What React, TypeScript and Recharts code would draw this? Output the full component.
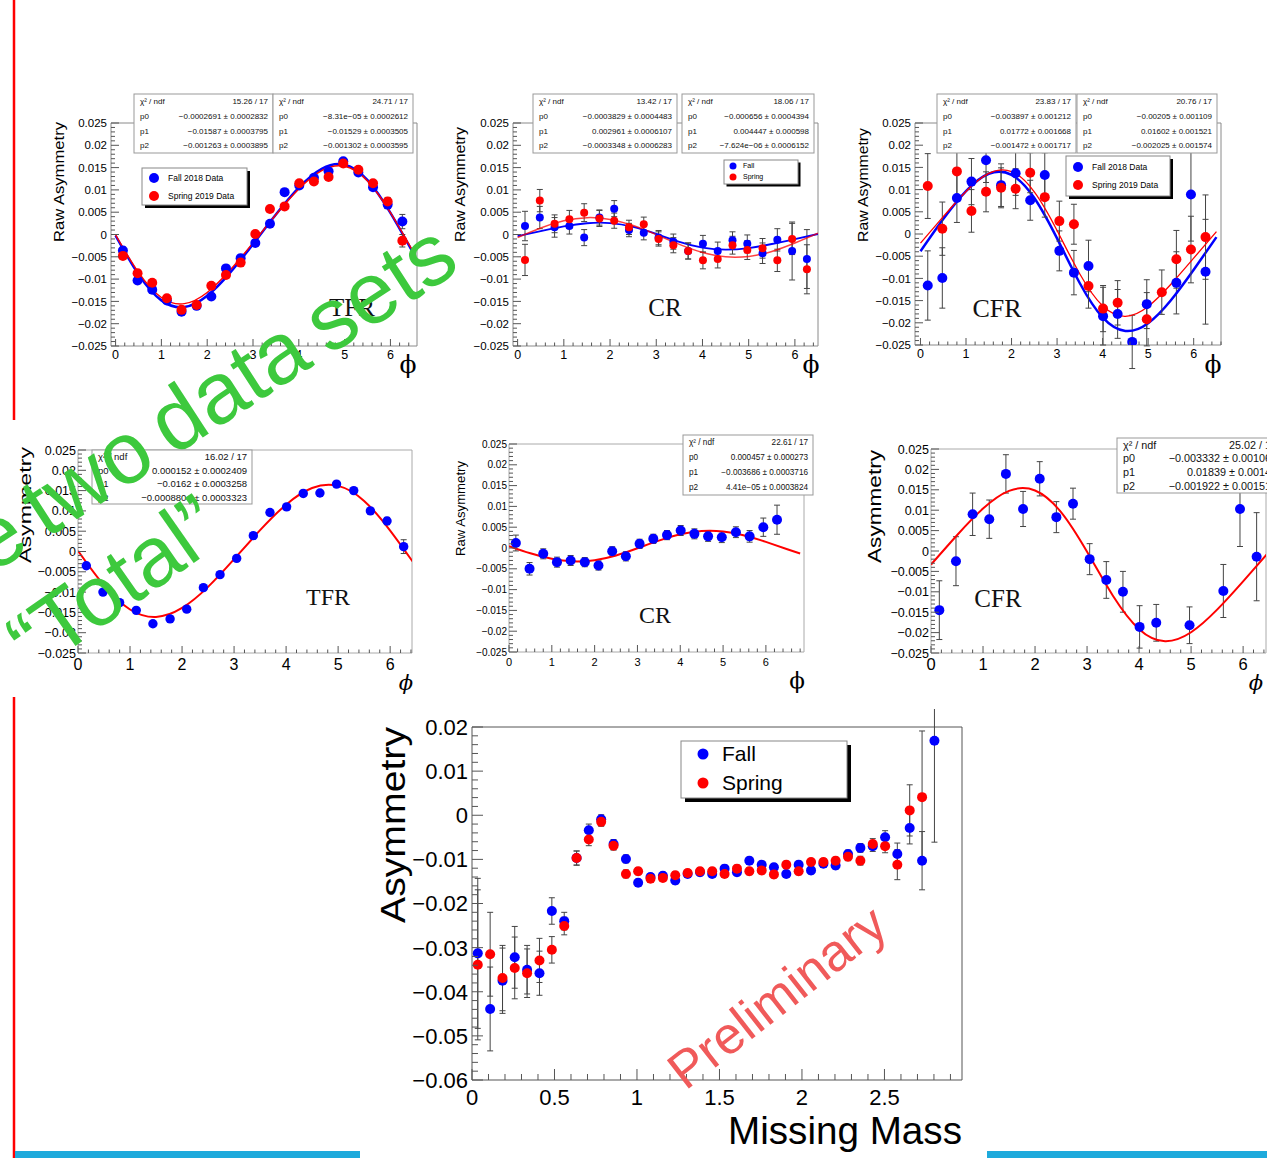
import React from 'react'
import { ComposedChart, Scatter, Line, XAxis, YAxis, ErrorBar, ReferenceArea } from 'recharts'

const SANS = '"Liberation Sans", Arial, Helvetica, sans-serif'
const SERIF = '"Liberation Serif", "Times New Roman", serif'
const GREEK = '"DejaVu Serif", serif'
const BLUE = '#0000ff'
const RED = '#ff0000'
const GREEN = '#3dc93d'

const PHI = [0.16, 0.48, 0.8, 1.12, 1.44, 1.77, 2.09, 2.41, 2.73, 3.05, 3.37, 3.69, 4.01, 4.33, 4.65, 4.97, 5.3, 5.62, 5.94, 6.26]
const FIT_PHI = [0, 0.5, 1, 1.5, 2, 2.5, 3, 3.5, 4, 4.5, 5, 5.5, 6, 6.5]
const FIT_PHI_LONG = [0, 0.5, 1, 1.5, 2, 2.5, 3, 3.5, 4, 4.5, 5, 5.5, 6, 6.5, 6.8]

// TFR, fall / spring
const TFR_FALL = [-0.0036, -0.0103, -0.0124, -0.0148, -0.0173, -0.016, -0.0139, -0.0076, -0.0053, -0.0019, 0.0024, 0.0095, 0.011, 0.0127, 0.0142, 0.0164, 0.0139, 0.0106, 0.0067, 0.0029]
const TFR_FALL_ERR = [0.0008, 0.0007, 0.0007, 0.0006, 0.0006, 0.0006, 0.0006, 0.0006, 0.0006, 0.0006, 0.0006, 0.0006, 0.0006, 0.0006, 0.0006, 0.0006, 0.0006, 0.0007, 0.0009, 0.0016]
const TFR_SPRING = [-0.0048, -0.0087, -0.0108, -0.0143, -0.0169, -0.0158, -0.0115, -0.0091, -0.0063, 0.0001, 0.0057, 0.0063, 0.0115, 0.0119, 0.0129, 0.0159, 0.0145, 0.0115, 0.0074, -0.0014]
const TFR_SPRING_ERR = [0.0008, 0.0007, 0.0007, 0.0006, 0.0006, 0.0006, 0.0006, 0.0006, 0.0006, 0.0006, 0.0006, 0.0006, 0.0006, 0.0006, 0.0006, 0.0006, 0.0006, 0.0007, 0.0009, 0.0014]
const TFR_FALL_FIT = [-0.00027, -0.00894, -0.01477, -0.01628, -0.01375, -0.00856, -0.00216, 0.00447, 0.01049, 0.01472, 0.01564, 0.01219, 0.00484, -0.00421]
const TFR_SPRING_FIT = [-0.00008, -0.00851, -0.01413, -0.01551, -0.01299, -0.00798, -0.00188, 0.00442, 0.0102, 0.01433, 0.01529, 0.01201, 0.00489, -0.00392]

// CR, fall / spring
const CR_FALL = [0.0019, 0.0038, 0.0016, 0.0019, -0.0007, 0.0038, 0.0058, 0.001, 0.0004, -0.0007, -0.0016, -0.0037, -0.0021, -0.0037, -0.0013, -0.0021, -0.0042, -0.0012, -0.0037, -0.0055]
const CR_FALL_ERR = [0.0033, 0.0025, 0.0022, 0.0018, 0.0018, 0.0017, 0.0018, 0.0015, 0.0016, 0.0016, 0.0017, 0.0018, 0.0019, 0.002, 0.0019, 0.002, 0.0023, 0.0025, 0.0065, 0.0066]
const CR_SPRING = [-0.0057, 0.0076, 0.0024, 0.0034, 0.0049, 0.0036, 0.0031, 0.0016, 0.0023, -0.001, -0.0024, -0.0037, -0.0058, -0.0055, -0.0024, -0.0035, -0.0031, -0.0058, -0.001, -0.0078]
const CR_SPRING_ERR = [0.0035, 0.0025, 0.002, 0.002, 0.002, 0.0018, 0.0017, 0.0016, 0.0016, 0.0016, 0.0017, 0.0018, 0.0019, 0.002, 0.002, 0.0021, 0.0022, 0.0025, 0.0035, 0.0055]
const CR_FALL_FIT = [-0.00038, 0.00076, 0.00181, 0.00252, 0.00256, 0.00171, 0.00013, -0.00164, -0.00295, -0.00341, -0.00304, -0.00213, -0.00103, 0.00012]
const CR_SPRING_FIT = [-0.00066, 0.00147, 0.00308, 0.00378, 0.00338, 0.002, -0.00003, -0.00222, -0.00403, -0.00501, -0.00492, -0.0038, -0.0019, 0.0003]

// CFR, fall / spring
const CFR_FALL = [-0.0116, -0.0099, 0.0081, 0.0118, 0.0166, 0.011, 0.0137, 0.0076, 0.0133, -0.0038, -0.0087, -0.0072, -0.0185, -0.018, -0.0243, -0.0158, null, -0.011, 0.0089, -0.0085]
const CFR_FALL_ERR = [0.0078, 0.0068, 0.0055, 0.0052, 0.005, 0.0048, 0.005, 0.0045, 0.005, 0.0045, 0.005, 0.0058, 0.0065, 0.0055, 0.006, 0.0055, 0.006, 0.007, 0.0105, 0.0118]
const CFR_SPRING = [0.0108, 0.0012, 0.0141, 0.0052, 0.0095, 0.0104, 0.0102, 0.0138, 0.0083, 0.0029, 0.0022, -0.0117, -0.0168, -0.0155, null, -0.0192, -0.0131, -0.0057, -0.0035, -0.0007]
const CFR_SPRING_ERR = [0.0073, 0.006, 0.0055, 0.0048, 0.0045, 0.0045, 0.0045, 0.0045, 0.0045, 0.0045, 0.0045, 0.005, 0.0052, 0.005, 0.006, 0.006, 0.005, 0.0065, 0.0075, 0.0095]
const CFR_FALL_FIT = [-0.0039, 0.00336, 0.00967, 0.01357, 0.01332, 0.00812, -0.00099, -0.01109, -0.01877, -0.02183, -0.02009, -0.01493, -0.00806, -0.00071]
const CFR_SPRING_FIT = [-0.00205, 0.00393, 0.00959, 0.01364, 0.01405, 0.00948, 0.00078, -0.009, -0.01617, -0.01854, -0.01631, -0.01132, -0.00544, 0.00055]

// "Total" (both data sets together)
const TFR_TOT = [-0.0035, -0.01, -0.0126, -0.0145, -0.0178, -0.0166, -0.0142, -0.0089, -0.0057, -0.0017, 0.0039, 0.0096, 0.011, 0.0143, 0.0144, 0.0166, 0.015, 0.01, 0.0075, 0.0012]
const TFR_TOT_ERR = [0.0006, 0.0005, 0.0005, 0.0005, 0.0005, 0.0005, 0.0005, 0.0005, 0.0005, 0.0005, 0.0005, 0.0005, 0.0005, 0.0005, 0.0005, 0.0005, 0.0005, 0.0005, 0.0009, 0.0017]
const TFR_TOT_FIT = [0.00015, -0.00836, -0.01428, -0.01613, -0.01391, -0.00871, -0.00189, 0.00525, 0.01154, 0.01563, 0.01616, 0.01246, 0.00515, -0.0037]
const CR_TOT = [0.0012, -0.005, -0.0014, -0.0034, -0.003, -0.0034, -0.0042, -0.0008, -0.002, 0.001, 0.0022, 0.0031, 0.0042, 0.0034, 0.0028, 0.0026, 0.0038, 0.0028, 0.005, 0.0068]
const CR_TOT_ERR = [0.0019, 0.0015, 0.0012, 0.0012, 0.0012, 0.0011, 0.0011, 0.0011, 0.0011, 0.0011, 0.0011, 0.0011, 0.0012, 0.0012, 0.0012, 0.0013, 0.0013, 0.0014, 0.0022, 0.0035]
const CR_TOT_FIT = [0.00046, -0.00127, -0.0026, -0.00321, -0.00292, -0.00179, -0.00007, 0.00178, 0.00329, 0.00408, 0.00397, 0.00302, 0.00147, -0.00031, -0.00132]
const CFR_TOT = [-0.0145, -0.0025, 0.009, 0.0078, 0.0189, 0.0103, 0.0177, 0.0083, 0.0116, -0.002, -0.0071, -0.01, -0.0186, -0.0176, null, -0.0182, null, -0.0098, 0.0103, -0.0014]
const CFR_TOT_ERR = [0.0072, 0.006, 0.0052, 0.0047, 0.0047, 0.0043, 0.0042, 0.0038, 0.0038, 0.0038, 0.0045, 0.005, 0.0052, 0.0045, 0.005, 0.0045, 0.005, 0.0065, 0.0092, 0.0108]
const CFR_TOT_FIT = [-0.00333, 0.00387, 0.0104, 0.01474, 0.01484, 0.00952, -0.0002, -0.01104, -0.01915, -0.0221, -0.01991, -0.01438, -0.00744, -0.00018]

// asymmetry vs missing mass
const MM = [0.035, 0.11, 0.185, 0.259, 0.334, 0.409, 0.484, 0.559, 0.634, 0.708, 0.783, 0.858, 0.933, 1.007, 1.082, 1.157, 1.232, 1.307, 1.382, 1.456, 1.531, 1.606, 1.681, 1.756, 1.83, 1.905, 1.98, 2.055, 2.13, 2.204, 2.279, 2.354, 2.429, 2.504, 2.578, 2.653, 2.728, 2.803]
const MM_FALL = [-0.0313, -0.0439, -0.0375, -0.0322, -0.035, -0.0358, -0.0217, -0.024, -0.0097, -0.0034, -0.0009, -0.0065, -0.0099, -0.0153, -0.014, -0.0137, -0.0148, -0.0133, -0.0129, -0.0133, -0.0121, -0.0129, -0.0103, -0.0112, -0.0118, -0.0133, -0.0112, -0.0125, -0.011, -0.0114, -0.0088, -0.0074, -0.007, -0.005, -0.0088, -0.0029, -0.0103, 0.0169]
const MM_FALL_ERR = [0.017, 0.0095, 0.0074, 0.007, 0.0055, 0.005, 0.003, 0.002, 0.0016, 0.0014, 0.001, 0.001, 0.0009, 0.0008, 0.0008, 0.0008, 0.0008, 0.0008, 0.0008, 0.0008, 0.0008, 0.0008, 0.0008, 0.0008, 0.0008, 0.0008, 0.0008, 0.0008, 0.0008, 0.0008, 0.0009, 0.001, 0.0012, 0.0015, 0.0025, 0.0036, 0.0066, 0.023]
const MM_SPRING = [-0.0339, -0.0315, -0.0369, -0.0346, -0.0358, -0.0329, -0.0305, -0.0251, -0.0097, -0.0055, -0.0015, -0.0069, -0.0133, -0.0127, -0.0144, -0.0142, -0.0136, -0.0131, -0.0127, -0.0127, -0.0133, -0.0121, -0.0127, -0.0125, -0.0134, -0.0112, -0.0127, -0.0106, -0.0106, -0.0103, -0.0094, -0.0103, -0.0065, -0.007, -0.0112, 0.0011, 0.0041, null]
const MM_SPRING_ERR = [0.017, 0.0095, 0.0074, 0.007, 0.0055, 0.005, 0.003, 0.002, 0.0016, 0.0014, 0.001, 0.001, 0.0009, 0.0008, 0.0008, 0.0008, 0.0008, 0.0008, 0.0008, 0.0008, 0.0008, 0.0008, 0.0008, 0.0008, 0.0008, 0.0008, 0.0008, 0.0008, 0.0008, 0.0008, 0.0009, 0.001, 0.0012, 0.0015, 0.0034, 0.0058, 0.015, 0]

// fit result boxes
const CHI = '\u03c7\u00b2 / ndf'
const STATS_TFR_FALL = [[CHI, '15.26 / 17'], ['p0', '\u22120.0002691 \u00b1 0.0002832'], ['p1', '\u22120.01587 \u00b1 0.0003795'], ['p2', '\u22120.001263 \u00b1 0.0003895']]
const STATS_TFR_SPRING = [[CHI, '24.71 / 17'], ['p0', '\u22128.31e\u221205 \u00b1 0.0002612'], ['p1', '\u22120.01529 \u00b1 0.0003505'], ['p2', '\u22120.001302 \u00b1 0.0003595']]
const STATS_CR_FALL = [[CHI, '13.42 / 17'], ['p0', '\u22120.0003829 \u00b1 0.0004483'], ['p1', '0.002961 \u00b1 0.0006107'], ['p2', '\u22120.0003348 \u00b1 0.0006283']]
const STATS_CR_SPRING = [[CHI, '18.06 / 17'], ['p0', '\u22120.000656 \u00b1 0.0004394'], ['p1', '0.004447 \u00b1 0.000598'], ['p2', '\u22127.624e\u221206 \u00b1 0.0006152']]
const STATS_CFR_FALL = [[CHI, '23.83 / 17'], ['p0', '\u22120.003897 \u00b1 0.001212'], ['p1', '0.01772 \u00b1 0.001668'], ['p2', '\u22120.001472 \u00b1 0.001717']]
const STATS_CFR_SPRING = [[CHI, '20.76 / 17'], ['p0', '\u22120.00205 \u00b1 0.001109'], ['p1', '0.01602 \u00b1 0.001521'], ['p2', '\u22120.002025 \u00b1 0.001574']]
const STATS_TFR_TOT = [[CHI, '16.02 / 17'], ['p0', '0.000152 \u00b1 0.0002409'], ['p1', '\u22120.0162 \u00b1 0.0003258'], ['p2', '\u22120.0008804 \u00b1 0.0003323']]
const STATS_CR_TOT = [[CHI, '22.61 / 17'], ['p0', '0.000457 \u00b1 0.000273'], ['p1', '\u22120.003686 \u00b1 0.0003716'], ['p2', '4.41e\u221205 \u00b1 0.0003824']]
const STATS_CFR_TOT = [[CHI, '25.02 / 17'], ['p0', '\u22120.003332 \u00b1 0.001065'], ['p1', '0.01839 \u00b1 0.00147'], ['p2', '\u22120.001922 \u00b1 0.001519']]

type Pts = { kind: 'pts'; x: number[]; y: (number | null)[]; err: number[]; color: string; r: number }
type Fit = { kind: 'fit'; x: number[]; y: number[]; color: string; width: number; opacity?: number }
type Layer = Pts | Fit

const ticksOf = (lo: number, hi: number, step: number) => {
  const out: number[] = []
  for (let k = Math.ceil(lo / step - 1e-9); k * step <= hi + 1e-9; k++) out.push(Number((k * step).toFixed(6)))
  return out
}
const isMajor = (v: number, step: number) => Math.abs(v / step - Math.round(v / step)) < 1e-6
const fmt = (v: number) => (Math.abs(v) < 1e-12 ? '0' : String(Number(v.toFixed(4))).replace('-', '\u2212'))

interface PanelProps {
  frame: [number, number, number, number]
  xDomain: [number, number]
  yDomain: [number, number]
  xMajor: number
  xMinor: number
  yMajor: number
  yMinor: number
  xFont: number
  yFont: number
  xDy: number
  yGap: number
  xLen: [number, number]
  yLen: [number, number]
  frameColor: string
  layers: Layer[]
}

function Panel(p: PanelProps) {
  const [fx, fy, fw, fh] = p.frame
  const YW = 80
  const XH = 40
  const MT = 18
  const MR = 6
  const tickColor = '#555'
  const xTick = (t: any) => {
    const v = t.payload.value
    const maj = isMajor(v, p.xMajor)
    return (
      <g>
        <line x1={t.x} x2={t.x} y1={t.y} y2={t.y - (maj ? p.xLen[0] : p.xLen[1])} stroke={tickColor} strokeWidth={1} />
        {maj && (
          <text x={t.x} y={t.y + p.xDy} textAnchor="middle" fontSize={p.xFont} fontFamily={SANS} fill="#000">
            {fmt(v)}
          </text>
        )}
      </g>
    )
  }
  const yTick = (t: any) => {
    const v = t.payload.value
    const maj = isMajor(v, p.yMajor)
    return (
      <g>
        <line x1={t.x} x2={t.x + (maj ? p.yLen[0] : p.yLen[1])} y1={t.y} y2={t.y} stroke={tickColor} strokeWidth={1} />
        {maj && (
          <text x={t.x - p.yGap} y={t.y} dy="0.36em" textAnchor="end" fontSize={p.yFont} fontFamily={SANS} fill="#000">
            {fmt(v)}
          </text>
        )}
      </g>
    )
  }
  return (
    <div style={{ position: 'absolute', left: fx - YW, top: fy - MT }}>
      <ComposedChart width={fw + YW + MR} height={fh + MT + XH} margin={{ top: MT, right: MR, bottom: 0, left: 0 }}>
        <XAxis type="number" dataKey="x" domain={p.xDomain} allowDataOverflow ticks={ticksOf(p.xDomain[0], p.xDomain[1], p.xMinor)}
          interval={0} tickSize={0} tickMargin={0} tickLine={false} axisLine={false} height={XH} tick={xTick} />
        <YAxis type="number" dataKey="y" domain={p.yDomain} allowDataOverflow ticks={ticksOf(p.yDomain[0], p.yDomain[1], p.yMinor)}
          interval={0} tickSize={0} tickMargin={0} tickLine={false} axisLine={false} width={YW} tick={yTick} />
        <ReferenceArea x1={p.xDomain[0]} x2={p.xDomain[1]} y1={p.yDomain[0]} y2={p.yDomain[1]}
          fill="none" fillOpacity={0} stroke={p.frameColor} strokeWidth={1} />
        {p.layers.map((l, i) =>
          l.kind === 'pts' ? (
            <Scatter key={i} isAnimationActive={false}
              data={l.x.map((x, j) => ({ x, y: l.y[j], e: l.err[j] })).filter((d) => d.y !== null)}
              shape={(s: any) => <circle cx={s.cx} cy={s.cy} r={l.r} fill={l.color} />}>
              <ErrorBar dataKey="e" direction="y" width={3} stroke="#444" strokeWidth={1} isAnimationActive={false} />
            </Scatter>
          ) : (
            <Line key={i} data={l.x.map((x, j) => ({ x, y: l.y[j] }))} dataKey="y" type="natural" dot={false} activeDot={false}
              stroke={l.color} strokeWidth={l.width} strokeOpacity={l.opacity ?? 1} isAnimationActive={false} />
          )
        )}
      </ComposedChart>
    </div>
  )
}

const pts = (y: (number | null)[], err: number[], color: string, r: number, x: number[] = PHI): Pts => ({ kind: 'pts', x, y, err, color, r })
const fit = (y: number[], color: string, width: number, x: number[] = FIT_PHI, opacity = 1): Fit => ({ kind: 'fit', x, y, color, width, opacity })

const TOP = { yDomain: [-0.025, 0.025] as [number, number], xMajor: 1, xMinor: 0.2, yMajor: 0.005, yMinor: 0.001, xFont: 12.5, yFont: 11.5, xDy: 13, yGap: 4, xLen: [7, 3.5] as [number, number], yLen: [8, 4] as [number, number], frameColor: '#8a8a8a' }
const BOT = { yDomain: [-0.025, 0.025] as [number, number], xMajor: 1, xMinor: 0.2, yMajor: 0.005, yMinor: 0.001, xFont: 16, yFont: 12.5, xDy: 17, yGap: 2, xLen: [7, 3.5] as [number, number], yLen: [8, 4] as [number, number], frameColor: '#aaaaaa' }

function StatBox({ x, y, w, h, rows, font }: { x: number; y: number; w: number; h: number; rows: string[][]; font: number }) {
  const step = h / rows.length
  return (
    <g>
      <rect x={x} y={y} width={w} height={h} fill="#fff" stroke="#999" strokeWidth={1} />
      {rows.map((r, i) => (
        <g key={i} fontFamily={SANS} fontSize={font} fill="#111">
          <text x={x + 6} y={y + step * (i + 0.5)} dy="0.35em">{r[0]}</text>
          <text x={x + w - 5} y={y + step * (i + 0.5)} dy="0.35em" textAnchor="end">{r[1]}</text>
        </g>
      ))}
    </g>
  )
}

function LegendBox({ x, y, w, h, items, font, r, mx, tx, shadow }: { x: number; y: number; w: number; h: number; items: [string, string, number][]; font: number; r: number; mx: number; tx: number; shadow: number }) {
  return (
    <g>
      <rect x={x + shadow} y={y + shadow} width={w} height={h} fill="#000" />
      <rect x={x} y={y} width={w} height={h} fill="#fff" stroke="#888" strokeWidth={1} />
      {items.map(([label, color, cy], i) => (
        <g key={i}>
          <circle cx={mx} cy={cy} r={r} fill={color} />
          <text x={tx} y={cy} dy="0.35em" fontFamily={SANS} fontSize={font} fill="#000">{label}</text>
        </g>
      ))}
    </g>
  )
}

function VTitle({ x, top, len, font, text }: { x: number; top: number; len: number; font: number; text: string }) {
  return (
    <text transform={`translate(${x},${top}) rotate(-90)`} textAnchor="end" fontFamily={SANS} fontSize={font}
      textLength={len} lengthAdjust="spacingAndGlyphs" fill="#000">{text}</text>
  )
}

export default function App() {
  return (
    <div style={{ position: 'absolute', left: 0, top: 0, width: 1267, height: 1158, overflow: 'hidden', background: '#fff' }}>
      <Panel {...TOP} frame={[111, 123, 306, 223]} xDomain={[-0.1, 6.58]} layers={[
        pts(TFR_FALL, TFR_FALL_ERR, BLUE, 5), fit(TFR_FALL_FIT, BLUE, 2.5),
        pts(TFR_SPRING, TFR_SPRING_ERR, RED, 5), fit(TFR_SPRING_FIT, RED, 1.4),
      ]} />
      <Panel {...TOP} frame={[513, 123, 305, 223]} xDomain={[-0.1, 6.5]} layers={[
        pts(CR_FALL, CR_FALL_ERR, BLUE, 4), fit(CR_FALL_FIT, BLUE, 1.8),
        pts(CR_SPRING, CR_SPRING_ERR, RED, 4), fit(CR_SPRING_FIT, RED, 1.5, FIT_PHI, 0.75),
      ]} />
      <Panel {...TOP} frame={[915, 123, 306, 222]} xDomain={[-0.12, 6.6]} layers={[
        pts(CFR_FALL, CFR_FALL_ERR, BLUE, 5), fit(CFR_FALL_FIT, BLUE, 2.5),
        pts(CFR_SPRING, CFR_SPRING_ERR, RED, 5), fit(CFR_SPRING_FIT, RED, 1.3),
      ]} />
      <Panel {...BOT} frame={[78, 450, 334, 203]} xDomain={[0, 6.42]} layers={[
        pts(TFR_TOT, TFR_TOT_ERR, BLUE, 4.7), fit(TFR_TOT_FIT, RED, 2),
      ]} />
      <Panel {...BOT} xFont={11} yFont={10} xDy={14} frame={[509, 444, 295, 208]} xDomain={[0, 6.89]} layers={[
        pts(CR_TOT, CR_TOT_ERR, BLUE, 5), fit(CR_TOT_FIT, RED, 2, FIT_PHI_LONG),
      ]} />
      <Panel {...BOT} xFont={16.5} frame={[931, 449, 335, 204]} xDomain={[0, 6.44]} layers={[
        pts(CFR_TOT, CFR_TOT_ERR, BLUE, 5), fit(CFR_TOT_FIT, RED, 2),
      ]} />
      <Panel frame={[472, 727, 490, 353]} xDomain={[0, 2.97]} yDomain={[-0.06, 0.02]} xMajor={0.5} xMinor={0.1}
        yMajor={0.01} yMinor={0.002} xFont={22} yFont={22} xDy={25} yGap={4} xLen={[11, 6]} yLen={[11, 6]} frameColor="#555"
        layers={[pts(MM_FALL, MM_FALL_ERR, BLUE, 5, MM), pts(MM_SPRING, MM_SPRING_ERR, RED, 5, MM)]} />

      <svg width={1267} height={1158} style={{ position: 'absolute', left: 0, top: 0, pointerEvents: 'none' }}>
        {/* slide decoration */}
        <line x1={14} y1={0} x2={14} y2={420} stroke={RED} strokeWidth={2.5} />
        <line x1={14} y1={697} x2={14} y2={1158} stroke={RED} strokeWidth={2.5} />
        <rect x={15} y={1151} width={345} height={7} fill="#1eaadc" />
        <rect x={987} y={1151} width={280} height={7} fill="#1eaadc" />

        {/* axis titles */}
        <VTitle x={64} top={122} len={120} font={15.5} text="Raw Asymmetry" />
        <VTitle x={465} top={127} len={115} font={15.5} text="Raw Asymmetry" />
        <VTitle x={868} top={128} len={114} font={15.5} text="Raw Asymmetry" />
        <VTitle x={31} top={447} len={116} font={17} text="Asymmetry" />
        <VTitle x={465} top={461} len={95} font={12.5} text="Raw Asymmetry" />
        <VTitle x={881} top={450} len={113} font={19} text="Asymmetry" />
        <VTitle x={405} top={727} len={196} font={35} text="Asymmetry" />
        <text x={962} y={1144} textAnchor="end" fontFamily={SANS} fontSize={38} textLength={234} lengthAdjust="spacingAndGlyphs" fill="#000">Missing Mass</text>

        {/* phi axis symbols */}
        <text x={408} y={373} textAnchor="middle" fontFamily={GREEK} fontSize={25} fill="#000">{'\u03d5'}</text>
        <text x={811} y={373} textAnchor="middle" fontFamily={GREEK} fontSize={25} fill="#000">{'\u03d5'}</text>
        <text x={1213} y={373} textAnchor="middle" fontFamily={GREEK} fontSize={25} fill="#000">{'\u03d5'}</text>
        <text x={406} y={690} textAnchor="middle" fontFamily={GREEK} fontStyle="italic" fontSize={21} fill="#000">{'\u03d5'}</text>
        <text x={797} y={688} textAnchor="middle" fontFamily={GREEK} fontSize={23} fill="#000">{'\u03d5'}</text>
        <text x={1256} y={690} textAnchor="middle" fontFamily={GREEK} fontStyle="italic" fontSize={21} fill="#000">{'\u03d5'}</text>

        {/* region names */}
        <g fontFamily={SERIF} fill="#111" textAnchor="middle">
          <text x={352} y={316} fontSize={25}>TFR</text>
          <text x={665} y={316} fontSize={25}>CR</text>
          <text x={997} y={317} fontSize={26}>CFR</text>
          <text x={328} y={605} fontSize={24}>TFR</text>
          <text x={655} y={623} fontSize={24}>CR</text>
          <text x={998} y={607} fontSize={25}>CFR</text>
        </g>

        {/* fit boxes */}
        <StatBox x={134} y={94} w={139} h={59} rows={STATS_TFR_FALL} font={8} />
        <StatBox x={273} y={94} w={140} h={59} rows={STATS_TFR_SPRING} font={8} />
        <StatBox x={533} y={94} w={144} h={59} rows={STATS_CR_FALL} font={8} />
        <StatBox x={682} y={94} w={132} h={59} rows={STATS_CR_SPRING} font={8} />
        <StatBox x={937} y={94} w={139} h={59} rows={STATS_CFR_FALL} font={8} />
        <StatBox x={1077} y={94} w={140} h={59} rows={STATS_CFR_SPRING} font={8} />
        <StatBox x={92} y={450} w={160} h={54} rows={STATS_TFR_TOT} font={9.5} />
        <StatBox x={683} y={435} w={130} h={60} rows={STATS_CR_TOT} font={8.2} />
        <StatBox x={1117} y={438} w={165} h={55} rows={STATS_CFR_TOT} font={10.8} />

        {/* legends */}
        <LegendBox x={142} y={168} w={105} h={37} shadow={3} font={8.5} r={5} mx={154} tx={168}
          items={[['Fall 2018 Data', BLUE, 178], ['Spring 2019 Data', RED, 196]]} />
        <LegendBox x={724} y={160} w={74} h={24} shadow={2.5} font={7} r={3.5} mx={733} tx={743}
          items={[['Fall', BLUE, 166], ['Spring', RED, 177]]} />
        <LegendBox x={1066} y={156} w={104} h={40} shadow={3} font={8.5} r={5} mx={1078} tx={1092}
          items={[['Fall 2018 Data', BLUE, 167], ['Spring 2019 Data', RED, 185]]} />
        <LegendBox x={681} y={741} w={166} h={57} shadow={4} font={21} r={5.5} mx={703} tx={722}
          items={[['Fall', BLUE, 754], ['Spring', RED, 783]]} />

        {/* annotations on the slide */}
        <text x={788} y={1011} transform="rotate(-38 788 1011)" textAnchor="middle" fontFamily={SANS} fontSize={52}
          fill="#f05a5a">Preliminary</text>
        <text x={-69} y={614} transform="rotate(-33 -69 614)" fontFamily={SANS} fontSize={87} wordSpacing={-8} fill={GREEN}>the two data sets</text>
        <text x={131} y={607} transform="rotate(-35 131 607)" textAnchor="middle" fontFamily={SANS} fontSize={85} fill={GREEN}>{'\u201cTotal\u201d'}</text>
      </svg>
    </div>
  )
}
